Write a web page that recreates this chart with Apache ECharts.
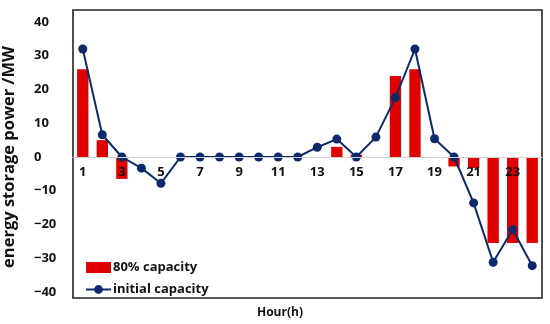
<!DOCTYPE html>
<html>
<head>
<meta charset="utf-8">
<script src="https://cdn.jsdelivr.net/npm/echarts@6/dist/echarts.min.js"></script>
<style>html,body{margin:0;padding:0;background:#fff;}#c{width:550px;height:324px;}</style>
</head>
<body>
<div id="c"></div>
<script>
const hours = ['1','2','3','4','5','6','7','8','9','10','11','12','13','14','15','16','17','18','19','20','21','22','23','24'];
const capacity80 = [26, 5, -6.5, 0, 0, 0, 0, 0, 0, 0, 0, 0, 0, 3, 0.7, 0, 24, 26, 0, -2.8, -3.3, -25.5, -25.5, -25.5];
const initialCapacity = [32, 6.6, 0, -3.3, -7.8, 0, 0, 0, 0, 0, 0, 0, 2.9, 5.3, 0, 5.9, 17.6, 32, 5.4, 0, -13.6, -31.2, -21.5, -32.2];
const yTicks = [-40, -30, -20, -10, 0, 10, 20, 30, 40];
const xTitle = 'Hour(h)';

const font = '"Open Sans", "Noto Sans", sans-serif';
const chart = echarts.init(document.getElementById('c'), null, {renderer: 'canvas'});
chart.setOption({
  animation: false,
  grid: {left: 73, right: 8, top: 22, bottom: 32, containLabel: false, outerBoundsMode: 'none'},
  graphic: [
    {type: 'rect', shape: {x: 73, y: 10, width: 469, height: 288}, style: {fill: 'none', stroke: '#222', lineWidth: 1.6}, silent: true},
    {type: 'text', left: 257, top: 307, style: {text: xTitle, fontFamily: font, fontWeight: 'bold', fontSize: 12, fill: '#111'}}
  ],
  legend: {
    left: 80, top: 256, orient: 'vertical', itemGap: 9, itemWidth: 25, itemHeight: 11,
    textStyle: {fontFamily: font, fontWeight: 'bold', fontSize: 13, color: '#111', padding: [0, 0, 0, -3]},
    data: [
      {name: '80% capacity', icon: 'rect'},
      {name: 'initial capacity'}
    ]
  },
  xAxis: {
    type: 'category', data: hours, boundaryGap: true, offset: -135, z: 10,
    axisLine: {onZero: false, lineStyle: {color: '#d0d0d0', width: 1}},
    axisTick: {show: false},
    axisLabel: {interval: 1, margin: 9, fontFamily: font, fontWeight: 'bold', fontSize: 13, color: '#111'}
  },
  yAxis: {
    type: 'value', min: yTicks[0], max: yTicks[yTicks.length - 1], interval: 10,
    name: 'energy storage power /MW', nameLocation: 'middle', nameGap: 55, nameRotate: 90,
    nameTextStyle: {fontFamily: font, fontWeight: 'bold', fontSize: 16.5, color: '#111'},
    axisLine: {show: false}, axisTick: {show: false}, splitLine: {show: false},
    axisLabel: {margin: 39, align: 'left', fontFamily: font, fontWeight: 'bold', fontSize: 13, color: '#111',
      formatter: v => (v < 0 ? '\u2212' + Math.abs(v) : String(v))}
  },
  series: [
    {
      name: '80% capacity', type: 'bar', data: capacity80, barWidth: '58%', z: 2,
      itemStyle: {color: '#e00000'}
    },
    {
      name: 'initial capacity', type: 'line', data: initialCapacity, z: 3,
      symbol: 'circle', symbolSize: 9,
      lineStyle: {color: '#0c2a6b', width: 2},
      itemStyle: {color: '#0c2a6b'}
    }
  ]
});
</script>
</body>
</html>
